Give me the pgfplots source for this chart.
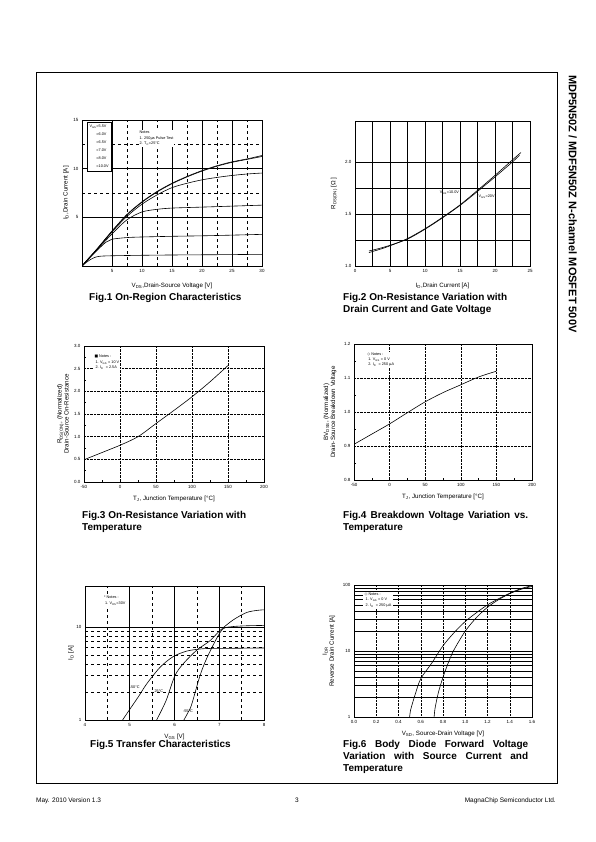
\documentclass[border=0pt]{standalone}
\usepackage{fontspec}
\setmainfont{Liberation Sans}
\newfontfamily\dejavu{DejaVu Sans}
\usepackage{pgfplots}
\pgfplotsset{compat=1.18}
\pgfplotsset{
  every axis/.append style={scale only axis, anchor=south west,
    axis line style={line width=0.8pt},
    tick label style={font=\fontsize{4.5}{5}\selectfont},
    label style={font=\fontsize{6.2}{7}\selectfont},
    /pgf/number format/assume math mode=true},
  crv/.style={black, line width=0.6pt, smooth, no markers},
}
\newcommand{\figcap}[1]{\fontsize{10}{12}\selectfont\bfseries #1}
\begin{document}
\begin{tikzpicture}[x=1pt,y=1pt]
\path[use as bounding box, fill=white] (0,0) rectangle (595,842);
\draw[line width=0.8pt] (36,770) rectangle (557,59);
\node[rotate=-90, anchor=north west, inner sep=0pt, font=\bfseries\fontsize{11}{13}\selectfont] at (577,767) {MDP5N50Z / MDF5N50Z N-channel MOSFET 500V};
\node[anchor=base west, inner sep=0pt, font=\fontsize{6.5}{8}\selectfont] at (36,39) {May. 2010 Version 1.3};
\node[anchor=base, inner sep=0pt, font=\fontsize{6.5}{8}\selectfont] at (297,39) {3};
\node[anchor=base east, inner sep=0pt, font=\fontsize{6.5}{8}\selectfont] at (556,39) {MagnaChip Semiconductor Ltd.};

% ---------------- Fig 1
\begin{axis}[at={(82pt,576pt)}, width=180pt, height=146pt,
  xmin=0, xmax=30, ymin=0, ymax=15,
  xtick={5,10,...,30}, ytick={5,10,15},
  minor x tick num=1, minor y tick num=1, grid=both,
  major grid style={black, line width=0.6pt},
  minor grid style={black, dashed, line width=0.4pt},
  tick style={draw=none},
  xlabel={V\textsubscript{DS},Drain-Source Voltage [V]},
  ylabel={I\textsubscript{D},Drain Current [A]},
  xlabel style={at={(axis description cs:0.5,0)}, anchor=center, yshift=-20pt},
  ylabel style={at={(axis description cs:0,0.5)}, anchor=center, yshift=16pt},
]
\addplot[crv] coordinates {(0,0)(1,0.7)(2.5,1.75)(5,3.6)(7.5,5.3)(10,6.6)(12.5,7.65)(15,8.5)(17.5,9.2)(20,9.8)(22.5,10.3)(25,10.7)(27.5,11.0)(30,11.35)};
\addplot[crv] coordinates {(0,0)(1,0.7)(2.5,1.75)(5,3.55)(7.5,5.25)(10,6.55)(12.5,7.6)(15,8.45)(17.5,9.15)(20,9.75)(22.5,10.25)(25,10.65)(27.5,10.95)(30,11.25)};
\addplot[crv] coordinates {(0,0)(1,0.7)(2.5,1.7)(5,3.5)(7.5,5.1)(10,6.35)(12.5,7.3)(15,8.05)(17.5,8.5)(20,8.85)(22.5,9.1)(25,9.3)(27.5,9.45)(30,9.55)};
\addplot[crv] coordinates {(0,0)(1,0.7)(2.5,1.65)(5,3.3)(7.5,4.75)(10,5.55)(12.5,5.82)(15,5.95)(20,6.05)(25,6.15)(30,6.25)};
\addplot[crv] coordinates {(0,0)(1,0.65)(2.5,1.6)(4,2.45)(5,2.75)(7.5,2.92)(10,2.98)(15,3.05)(20,3.1)(25,3.17)(30,3.25)};
\addplot[crv] coordinates {(0,0)(1,0.5)(2,0.85)(3,1.0)(5,1.05)(10,1.1)(15,1.13)(20,1.15)(25,1.17)(30,1.2)};
\node[draw, line width=0.6pt, fill=white, anchor=north west, align=left, inner sep=2.5pt,
  font=\fontsize{3.8}{8}\selectfont] at (axis cs:0.8,14.75)
  {V\textsubscript{GS}=5.5V\\ \phantom{V\textsubscript{GS}}=6.0V\\ \phantom{V\textsubscript{GS}}=6.5V\\ \phantom{V\textsubscript{GS}}=7.0V\\ \phantom{V\textsubscript{GS}}=8.0V\\ \phantom{V\textsubscript{GS}}=10.0V};
\node[fill=white, anchor=north west, align=left, inner sep=1pt,
  font=\fontsize{3.8}{5.5}\selectfont] at (axis cs:9.4,14.0)
  {Notes\\1. 250{\dejavu μ}s Pulse Test\\2. T\textsubscript{C}=25°C};
\end{axis}
\node[anchor=base west, inner sep=0pt] at (89,541) {\figcap{Fig.1 On-Region Characteristics}};

% ---------------- Fig 2
\begin{axis}[at={(355pt,576pt)}, width=175pt, height=145pt,
  xmin=0, xmax=25, ymin=1.0, ymax=2.4,
  xtick={0,5,...,25}, ytick={1.0,1.5,2.0},
  yticklabel style={/pgf/number format/.cd, fixed, fixed zerofill, precision=1},
  minor x tick num=1, minor y tick num=1, grid=both,
  major grid style={black, line width=0.6pt},
  minor grid style={black, line width=0.6pt},
  tick style={draw=none},
  xlabel={I\textsubscript{D},Drain Current [A]},
  ylabel={R\textsubscript{DS(ON)} [Ω ]},
  xlabel style={at={(axis description cs:0.5,0)}, anchor=center, yshift=-20pt},
  ylabel style={at={(axis description cs:0,0.5)}, anchor=center, yshift=21pt},
]
\addplot[crv] coordinates {(2,1.13)(3.5,1.16)(5,1.195)(7.5,1.265)(10,1.36)(12.5,1.47)(15,1.59)(17.5,1.73)(20,1.875)(22.5,2.025)(23.7,2.095)};
\addplot[crv] coordinates {(2,1.145)(3.5,1.17)(5,1.2)(7.5,1.26)(10,1.355)(12.5,1.465)(15,1.585)(17.5,1.72)(20,1.86)(22.5,2.005)(23.5,2.07)};
\node[font=\fontsize{3.8}{4.5}\selectfont, inner sep=0.5pt] at (axis cs:13.5,1.71) {V\textsubscript{GS}=10.0V};
\node[font=\fontsize{3.8}{4.5}\selectfont, inner sep=0.5pt] at (axis cs:18.8,1.67) {V\textsubscript{GS}=20V};
\end{axis}
\node[anchor=base west, inner sep=0pt] at (343,541) {\figcap{Fig.2 On-Resistance Variation with}};
\node[anchor=base west, inner sep=0pt] at (343,529) {\figcap{Drain Current and Gate Voltage}};

% ---------------- Fig 3
\begin{axis}[at={(84pt,360pt)}, width=180pt, height=136pt,
  xmin=-50, xmax=200, ymin=0, ymax=3,
  xtick={-50,0,...,200}, ytick={0,0.5,...,3},
  yticklabel style={/pgf/number format/.cd, fixed, fixed zerofill, precision=1},
  minor x tick num=1, minor y tick num=1, grid=major,
  major grid style={black, densely dotted, line width=0.5pt},
  tick pos=left, tick align=inside, major tick length=2pt, minor tick length=1.5pt,
  tick style={black, line width=0.4pt},
  xlabel={T\textsubscript{J}, Junction Temperature [°C]},
  ylabel={R\textsubscript{DS(ON)}, (Normalized)\\Drain-Source On-Resistance},
  ylabel style={align=center, at={(axis description cs:0,0.5)}, anchor=center, yshift=21pt},
  xlabel style={at={(axis description cs:0.5,0)}, anchor=center, yshift=-17pt},
]
\addplot[crv] coordinates {(-50,0.49)(-25,0.65)(0,0.81)(25,1.0)(50,1.29)(75,1.58)(100,1.88)(125,2.21)(150,2.57)};
\node[anchor=north west, align=left, inner sep=1pt, fill=white, font=\fontsize{3.8}{5.2}\selectfont] at (axis cs:-37,2.82)
  {{\dejavu ■} Notes :\\ \ 1. V\textsubscript{GS} = 10 V\\ \ 2. I\textsubscript{D} \ = 2.5A};
\end{axis}
\node[anchor=base west, inner sep=0pt] at (82,323) {\figcap{Fig.3 On-Resistance Variation with}};
\node[anchor=base west, inner sep=0pt] at (82,311) {\figcap{Temperature}};

% ---------------- Fig 4
\begin{axis}[at={(354pt,362pt)}, width=178pt, height=136pt,
  xmin=-50, xmax=200, ymin=0.8, ymax=1.2,
  xtick={-50,0,...,200}, ytick={0.8,0.9,1.0,1.1,1.2},
  yticklabel style={/pgf/number format/.cd, fixed, fixed zerofill, precision=1},
  minor x tick num=1, minor y tick num=1, grid=major,
  major grid style={black, densely dotted, line width=0.5pt},
  tick pos=left, tick align=inside, major tick length=2pt, minor tick length=1.5pt,
  tick style={black, line width=0.4pt},
  xlabel={T\textsubscript{J}, Junction Temperature [°C]},
  ylabel={BV\textsubscript{DSS}, (Normalized)\\Drain-Source Breakdown Voltage},
  ylabel style={align=center, at={(axis description cs:0,0.5)}, anchor=center, yshift=24pt},
  xlabel style={at={(axis description cs:0.5,0)}, anchor=center, yshift=-17pt},
]
\addplot[crv] coordinates {(-50,0.905)(-25,0.935)(0,0.965)(25,0.998)(50,1.03)(75,1.057)(100,1.08)(125,1.103)(150,1.12)};
\node[anchor=north west, align=left, inner sep=1pt, fill=white, font=\fontsize{3.8}{5.2}\selectfont] at (axis cs:-33,1.178)
  {{\dejavu ◇} Notes :\\ \ 1. V\textsubscript{GS} = 0 V\\ \ 2. I\textsubscript{D} \ = 250 {\dejavu μ}A};
\end{axis}
\node[anchor=base west, inner sep=0pt] at (343,323) {\makebox[185pt][s]{\figcap{Fig.4 Breakdown Voltage Variation vs.}}};
\node[anchor=base west, inner sep=0pt] at (343,311) {\figcap{Temperature}};

% ---------------- Fig 5
\begin{axis}[at={(85pt,122pt)}, width=179pt, height=134pt,
  xmin=4, xmax=8, ymode=log, ymin=1, ymax=27.6,
  xtick={4,5,6,7,8}, ytick={1,10}, yticklabels={1,10},
  minor x tick num=1, grid=both,
  major grid style={black, line width=0.7pt},
  minor grid style={black, dashed, line width=0.4pt},
  tick style={draw=none},
  xlabel={V\textsubscript{GS} [V]},
  ylabel={I\textsubscript{D} [A]},
  xlabel style={at={(axis description cs:0.5,0)}, anchor=center, yshift=-17pt},
  ylabel style={at={(axis description cs:0,0.5)}, anchor=center, yshift=14pt},
]
\addplot[crv] coordinates {(4.84,1)(4.99,1.28)(5.2,1.8)(5.38,2.45)(5.68,3.7)(5.97,4.8)(6.27,5.5)(6.57,5.8)(6.8,5.88)(7.3,5.9)(8,5.95)};
\addplot[crv] coordinates {(5.6,1)(5.72,1.3)(5.83,1.7)(6.01,3.0)(6.2,4.05)(6.5,5.65)(6.79,7.1)(7.02,9.2)(7.31,11.9)(7.61,14.3)(7.85,15.1)(8,15.3)};
\addplot[crv] coordinates {(6.21,1)(6.3,1.2)(6.38,1.45)(6.57,3.0)(6.72,4.6)(6.94,7.5)(7.09,9.6)(7.3,10.1)(7.6,10.3)(8,10.4)};
\node[font=\fontsize{3.8}{4.5}\selectfont, inner sep=0.5pt] at (axis cs:5.1,2.25) {150°C};
\node[font=\fontsize{3.8}{4.5}\selectfont, inner sep=0.5pt] at (axis cs:5.65,2.05) {25°C};
\node[font=\fontsize{3.8}{4.5}\selectfont, inner sep=0.5pt] at (axis cs:6.3,1.25) {-55°C};
\node[anchor=north west, align=left, inner sep=1pt, fill=white, font=\fontsize{3.8}{5.2}\selectfont] at (axis cs:4.4,22)
  {* Notes :\\ \ 1. V\textsubscript{DS}=30V};
\end{axis}
\node[anchor=base west, inner sep=0pt] at (90,94) {\figcap{Fig.5 Transfer Characteristics}};

% ---------------- Fig 6
\begin{axis}[at={(354pt,125pt)}, width=178pt, height=132pt,
  xmin=0, xmax=1.6, ymode=log, ymin=1, ymax=100,
  xtick={0,0.2,...,1.6}, ytick={1,10,100}, yticklabels={1,10,100},
  xticklabel style={/pgf/number format/.cd, fixed, fixed zerofill, precision=1},
  grid=both,
  major x grid style={black, densely dotted, line width=0.5pt},
  major y grid style={black, line width=0.5pt},
  minor y grid style={black, line width=0.4pt},
  tick style={draw=none},
  xlabel={V\textsubscript{SD}, Source-Drain Voltage [V]},
  ylabel={I\textsubscript{DR}\\Reverse Drain Current [A]},
  xlabel style={at={(axis description cs:0.5,0)}, anchor=center, yshift=-17pt},
  ylabel style={align=center, at={(axis description cs:0,0.5)}, anchor=center, yshift=25pt},
]
\addplot[crv] coordinates {(0.5,1)(0.51,1.3)(0.55,2.2)(0.6,3.8)(0.7,6.6)(0.8,12)(0.9,19)(1.0,28)(1.1,38)(1.2,50)(1.3,62)(1.4,75)(1.5,88)(1.6,98)};
\addplot[crv] coordinates {(0.72,1)(0.73,1.4)(0.76,2.4)(0.8,4.0)(0.85,6.8)(0.9,10.5)(1.0,20)(1.1,32)(1.2,46)(1.3,60)(1.4,74)(1.5,86)(1.6,95)};
\node[anchor=north west, align=left, inner sep=1.5pt, fill=white, font=\fontsize{3.8}{5.2}\selectfont] at (axis cs:0.08,80)
  {{\dejavu ◇} Notes :\\ \ 1. V\textsubscript{GS} = 0 V\\ \ 2. I\textsubscript{D} \ = 250 {\dejavu μ}A};
\end{axis}
\node[anchor=base west, inner sep=0pt] at (343,94) {\makebox[185pt][s]{\figcap{Fig.6 Body Diode Forward Voltage}}};
\node[anchor=base west, inner sep=0pt] at (343,82) {\makebox[185pt][s]{\figcap{Variation with Source Current and}}};
\node[anchor=base west, inner sep=0pt] at (343,70) {\figcap{Temperature}};
\end{tikzpicture}
\end{document}
